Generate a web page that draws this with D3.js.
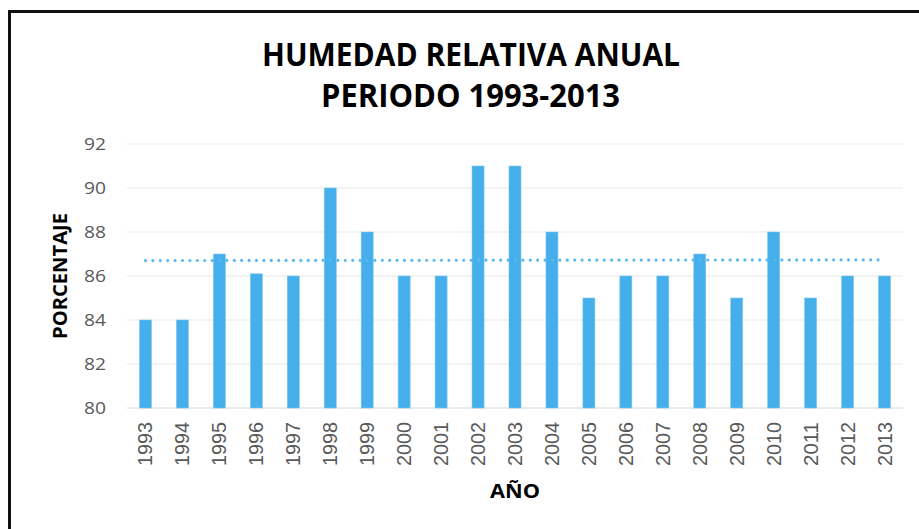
<!DOCTYPE html>
<html>
<head>
<meta charset="utf-8">
<script src="https://cdn.jsdelivr.net/npm/d3@7"></script>
<style>
  html, body { margin: 0; padding: 0; background: #fff; }
  svg { display: block; }
</style>
</head>
<body>
<svg id="chart" width="919" height="529"></svg>
<script>
const years = ["1993","1994","1995","1996","1997","1998","1999","2000","2001","2002","2003","2004","2005","2006","2007","2008","2009","2010","2011","2012","2013"];
const humidity = [84, 84, 87, 86.1, 86, 90, 88, 86, 86, 91, 91, 88, 85, 86, 86, 87, 85, 88, 85, 86, 86];
const yTicks = [80, 82, 84, 86, 88, 90, 92];
const titleLines = ["HUMEDAD RELATIVA ANUAL", "PERIODO 1993-2013"];
const yTitle = "PORCENTAJE";
const xTitle = "AÑO";

const svg = d3.select("#chart");
const W = 919, H = 529;
const plot = { left: 127, right: 903, top: 144, bottom: 408 };

// outer frame
svg.append("rect")
  .attr("x", 9.5).attr("y", 11.5)
  .attr("width", 930).attr("height", 540)
  .attr("fill", "#fff").attr("stroke", "#111").attr("stroke-width", 3);

const x = d3.scaleBand().domain(years).range([plot.left, plot.right]).paddingInner(0.675).paddingOuter(0.3375);
const y = d3.scaleLinear().domain([80, 92]).range([plot.bottom, plot.top]);

// gridlines
svg.append("g")
  .selectAll("line").data(yTicks).join("line")
  .attr("x1", plot.left).attr("x2", plot.right)
  .attr("y1", d => y(d)).attr("y2", d => y(d))
  .attr("stroke", d => d === 80 ? "#E3E3E3" : "#EFEFEF")
  .attr("stroke-width", 1.5);

// y tick labels
svg.append("g")
  .selectAll("text").data(yTicks).join("text")
  .attr("x", 106).attr("y", d => y(d) + 5.5)
  .attr("text-anchor", "end")
  .attr("font-family", "'Open Sans', sans-serif")
  .attr("font-size", 15.5)
  .attr("fill", "#595959")
  .attr("textLength", 22).attr("lengthAdjust", "spacingAndGlyphs")
  .text(d => d);

// bars
svg.append("g")
  .selectAll("rect").data(humidity).join("rect")
  .attr("x", (d, i) => x(years[i]))
  .attr("width", x.bandwidth())
  .attr("y", d => y(d))
  .attr("height", d => y(80) - y(d))
  .attr("fill", "#45AFEB")
  .attr("stroke", "#7CC6F0").attr("stroke-width", 0.6);

// linear trend line
const n = humidity.length;
const xs = d3.range(n);
const mx = d3.mean(xs), my = d3.mean(humidity);
const slope = d3.sum(xs, i => (i - mx) * (humidity[i] - my)) / d3.sum(xs, i => (i - mx) ** 2);
const icpt = my - slope * mx;
const cx = i => x(years[i]) + x.bandwidth() / 2;
svg.append("line")
  .attr("x1", cx(0)).attr("x2", cx(n - 1))
  .attr("y1", y(icpt)).attr("y2", y(icpt + slope * (n - 1)))
  .attr("stroke", "#5BB9EC").attr("stroke-width", 3.2)
  .attr("stroke-linecap", "round")
  .attr("stroke-dasharray", "0 7.4");

// x tick labels
svg.append("g")
  .selectAll("text").data(years).join("text")
  .attr("transform", d => `translate(${x(d) + x.bandwidth() / 2 + 7},422) rotate(-90)`)
  .attr("text-anchor", "end")
  .attr("font-family", "'Liberation Sans', Arial, sans-serif")
  .attr("font-size", 20)
  .attr("fill", "#595959")
  .attr("textLength", 44).attr("lengthAdjust", "spacingAndGlyphs")
  .text(d => d);

// title
const titleG = svg.append("g")
  .attr("font-family", "'Open Sans', sans-serif")
  .attr("font-weight", "bold")
  .attr("font-size", 33)
  .attr("fill", "#000")
  .attr("text-anchor", "middle");
titleG.append("text").attr("x", 471).attr("y", 66)
  .attr("textLength", 418).attr("lengthAdjust", "spacingAndGlyphs").text(titleLines[0]);
titleG.append("text").attr("x", 470.5).attr("y", 107)
  .attr("textLength", 299).attr("lengthAdjust", "spacingAndGlyphs").text(titleLines[1]);

// axis titles
svg.append("text")
  .attr("transform", "translate(67,276) rotate(-90)")
  .attr("text-anchor", "middle")
  .attr("font-family", "'Open Sans', sans-serif")
  .attr("font-weight", "bold")
  .attr("font-size", 20)
  .attr("fill", "#000")
  .attr("textLength", 126).attr("lengthAdjust", "spacingAndGlyphs")
  .text(yTitle);

svg.append("text")
  .attr("x", 515).attr("y", 498)
  .attr("text-anchor", "middle")
  .attr("font-family", "'Open Sans', sans-serif")
  .attr("font-weight", "bold")
  .attr("font-size", 20)
  .attr("fill", "#000")
  .attr("textLength", 50).attr("lengthAdjust", "spacingAndGlyphs")
  .text(xTitle);
</script>
</body>
</html>
